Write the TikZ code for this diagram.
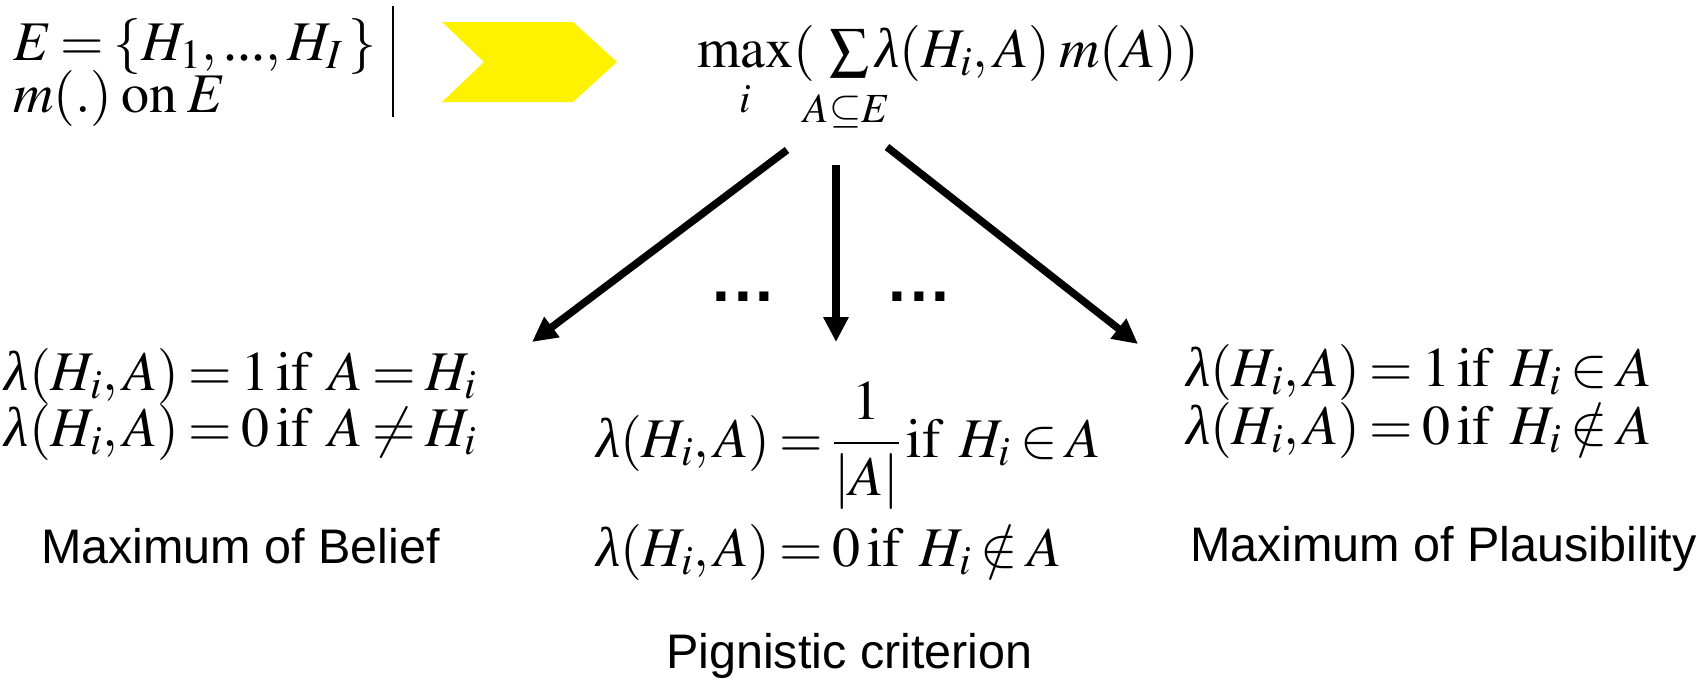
\documentclass[tikz,border=0pt]{standalone}
\usepackage{amsmath}
\usepackage{mathptmx}
\usepackage{fontspec}
\setmainfont{Liberation Serif}
\newfontfamily\arialfont{Liberation Sans}
\usetikzlibrary{arrows.meta}
\newcommand\lamb{\mbox{\itshape λ}}
\thickmuskip=3mu plus 2mu
\tikzset{
  mtxt/.style={inner sep=0pt, outer sep=0pt, font=\fontsize{56}{60}\selectfont},
  lbl/.style={inner sep=0pt, outer sep=0pt, font=\arialfont\fontsize{48.5}{52}\selectfont},
  dotstxt/.style={inner sep=0pt, outer sep=0pt, font=\arialfont\bfseries\fontsize{64}{64}\selectfont},
  bigarrow/.style={line width=7.5pt, -{Triangle[length=25pt,width=24pt]}},
}
\begin{document}
\begin{tikzpicture}[x=1pt,y=-1pt]
\useasboundingbox (0,0) rectangle (1706,680);
% top left
\node[mtxt, anchor=base west] (set) at (13,60) {$E=\{H_{1},\mbox{...},H_{I}\,\}$};
\node[mtxt, anchor=base west] (mon) at (13,112) {$m(.)\;\mathrm{on}\;E$};
\coordinate (vt) at (393,6);
\coordinate (vb) at (393,117);
\draw[line width=2.2pt] (vt) -- (vb);
% yellow chevron
\fill[yellow] (442,22) -- (573,22) -- (617,62) -- (573,102) -- (442,102) -- (484,62) -- cycle;
% max formula
\node[mtxt, anchor=base west] (maxf) at (697,67)
  {$\max\limits_{\rule{0pt}{36pt}i}(\kern14pt\sum\limits_{\rlap{$\scriptstyle\kern-15pt\rule{0pt}{36pt}A\subseteq E$}}\lamb(H_{i},A)\;m(A))$};
% arrows
\coordinate (s1) at (787,150);
\coordinate (s2) at (836,165);
\coordinate (s3) at (887,147);
\coordinate (t1) at (532,342);
\coordinate (t2) at (836,342);
\coordinate (t3) at (1138,344);
\draw[bigarrow] (s1) -- (t1);
\draw[bigarrow] (s2) -- (t2);
\draw[bigarrow] (s3) -- (t3);
% dots
\node[dotstxt, anchor=base] (d1) at (743,301) {.\kern4pt.\kern4pt.};
\node[dotstxt, anchor=base] (d2) at (919,301) {.\kern4pt.\kern4pt.};
% left formulas
\node[mtxt, anchor=base west] (l1) at (5,390) {$\lamb(H_{i},A)=1\,\mathrm{if}\;\;A=H_{i}$};
\node[mtxt, anchor=base west] (l2) at (5,446) {$\lamb(H_{i},A)=0\,\mathrm{if}\;\;A\neq H_{i}$};
\node[lbl, anchor=base west] (bel) at (41,563) {Maximum of Belief};
% middle formulas
\node[mtxt, anchor=base west] (m1) at (596,457) {$\lamb(H_{i},A)=\dfrac{1}{|A|}\,\mathrm{if}\;\;H_{i}\in A$};
\node[mtxt, anchor=base west] (m2) at (596,566) {$\lamb(H_{i},A)=0\,\mathrm{if}\;\;H_{i}\notin A$};
\node[lbl, anchor=base west] (pig) at (666,668) {Pignistic criterion};
% right formulas
\node[mtxt, anchor=base west] (r1) at (1186,386) {$\lamb(H_{i},A)=1\,\mathrm{if}\;\;H_{i}\in A$};
\node[mtxt, anchor=base west] (r2) at (1186,444) {$\lamb(H_{i},A)=0\,\mathrm{if}\;\;H_{i}\notin A$};
\node[lbl, anchor=base west] (pla) at (1190,561) {Maximum of Plausibility};
\end{tikzpicture}
\end{document}
